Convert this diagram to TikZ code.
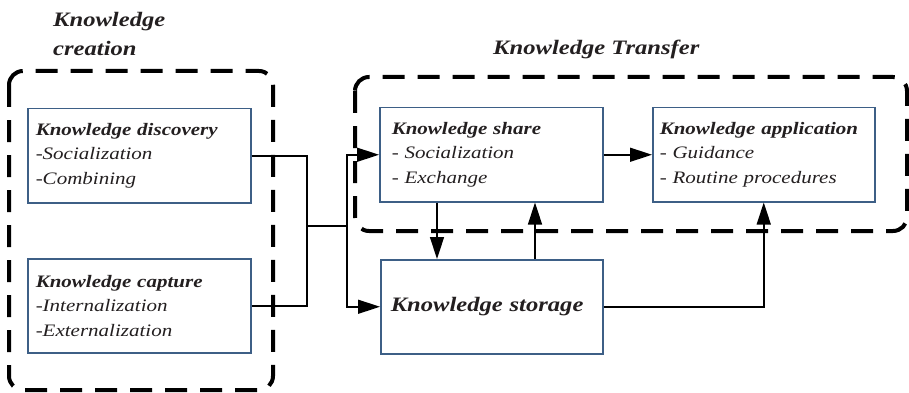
\documentclass[tikz,border=0pt]{standalone}
\usepackage{fontspec}
\setmainfont[FakeStretch=1.2]{Liberation Serif}
\usetikzlibrary{arrows.meta}
\definecolor{txt}{HTML}{231F20}
\definecolor{boxc}{HTML}{3D5F86}
\newcommand\bodyfnt{\fontsize{17.5}{24.5}\selectfont\itshape}
\newcommand\titlefnt{\fontsize{20.5}{26}\selectfont\bfseries\itshape}
\begin{document}
\begin{tikzpicture}[x=1pt,y=-1pt,
  kbox/.style={draw=boxc, line width=1.5pt, fill=white, anchor=north west,
    minimum height=94pt, text width=207pt, inner xsep=8pt, inner ysep=0pt,
    align=left, font=\bodyfnt, text=txt},
  grp/.style={draw=black, line width=4pt, dash pattern=on 22pt off 13pt, rounded corners=14pt},
  ttl/.style={font=\titlefnt, text=txt, anchor=base west, inner sep=0pt},
  conn/.style={draw=black, line width=1.5pt},
  arr/.style={conn, -{Triangle[length=22pt,width=14pt]}}]
\useasboundingbox (0,0) rectangle (909,393);
% groups
\draw[grp] (9,71) rectangle (273,390);
\draw[grp] (355,77) rectangle (907,231);
% titles
\node[ttl] (tc1) at (53,27) {Knowledge};
\node[ttl] (tc2) at (53,56) {creation};
\node[ttl] (tt) at (493,55) {Knowledge Transfer};
% boxes
\node[kbox] (disc) at (27,108) {\textbf{Knowledge discovery}\\-Socialization\\-Combining};
\node[kbox] (capt) at (27,258) {\textbf{Knowledge capture}\\-Internalization\\-Externalization};
\node[kbox, text width=199pt, inner xsep=12pt] (share) at (379,107) {\textbf{Knowledge share}\\- Socialization\\- Exchange};
\node[kbox, text width=208pt, inner xsep=7pt] (app) at (652,107) {\textbf{Knowledge application}\\- Guidance\\- Routine procedures};
\node[kbox, text width=202pt, inner xsep=10pt, font=\titlefnt] (stor) at (380,259) {Knowledge storage};
% connectors
\coordinate (j1) at (307,226);
\coordinate (j2) at (347,226);
\coordinate (xa) at (437,0);
\coordinate (xb) at (535,0);
\draw[conn] (disc.east) -| (j1) |- (capt.east);
\draw[conn] (j1) -- (j2);
\draw[arr] (j2) |- (share.west);
\draw[arr] (j2) |- (stor.west);
\draw[arr] (share.east) -- (app.west);
\draw[arr] (share.south -| xa) -- (stor.north -| xa);
\draw[arr] (stor.north -| xb) -- (share.south -| xb);
\draw[arr] (stor.east) -| (app.south);
\end{tikzpicture}
\end{document}
